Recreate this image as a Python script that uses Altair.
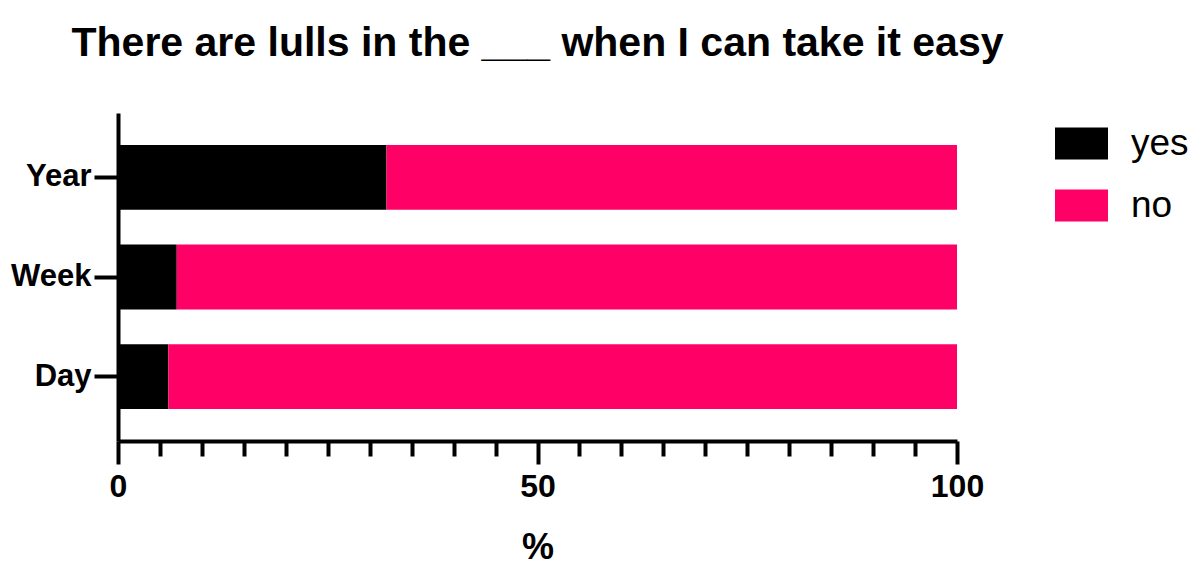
import altair as alt
import pandas as pd

periods = ["Year", "Week", "Day"]
yes_pct = [32, 7, 6]
no_pct = [68, 93, 94]
answers = ["yes", "no"]
answer_colors = ["#000000", "#FF0066"]

rows = []
for p, y, n in zip(periods, yes_pct, no_pct):
    rows.append({"period": p, "answer": "yes", "pct": y, "idx": 0})
    rows.append({"period": p, "answer": "no", "pct": n, "idx": 1})
df = pd.DataFrame(rows)

FONT = "Liberation Sans"

chart = alt.Chart(df).mark_bar().encode(
    y=alt.Y(
        "period:N",
        sort=periods,
        scale=alt.Scale(paddingInner=0.35, paddingOuter=0.32),
        axis=alt.Axis(
            title=None, domainWidth=4, domainColor="black", tickWidth=4,
            tickColor="black", tickSize=24, labelPadding=3, labelFont=FONT,
            labelFontSize=31, labelFontWeight="bold", labelColor="black",
        ),
    ),
    x=alt.X(
        "pct:Q",
        stack="zero",
        scale=alt.Scale(domain=[0, 100], nice=False),
        axis=alt.Axis(
            title="%", values=list(range(0, 101, 5)),
            labelExpr="datum.value % 50 === 0 ? datum.label : ''",
            domainWidth=4, domainColor="black", tickWidth=4, tickColor="black",
            tickSize={"condition": {"test": "datum.value % 50 === 0", "value": 23}, "value": 15},
            labelPadding=7, labelFont=FONT, labelFontSize=32,
            labelFontWeight="bold", labelColor="black", labelFlush=False,
            titleFont=FONT, titleFontSize=36, titleFontWeight="bold",
            titleColor="black", titlePadding=28, grid=False,
        ),
    ),
    color=alt.Color(
        "answer:N",
        scale=alt.Scale(domain=answers, range=answer_colors),
        legend=alt.Legend(
            title=None, orient="none", legendX=937, legendY=4,
            symbolType="M-1,-0.6H1V0.6H-1Z", symbolSize=2809,
            symbolStrokeWidth=0, symbolOpacity=1, labelFont=FONT,
            labelFontSize=37, labelColor="black", labelOffset=23, rowPadding=17,
        ),
    ),
    order=alt.Order("idx:Q", sort="ascending"),
).properties(
    width=839,
    height=328,
    padding={"left": 110, "top": 105, "right": 235, "bottom": 133},
    autosize=alt.AutoSizeParams(type="none"),
    title=alt.TitleParams(
        "There are lulls in the ___ when I can take it easy",
        font=FONT, fontSize=41, fontWeight="bold", color="black",
        anchor="middle", offset=48,
    ),
).configure_view(stroke=None).configure_axis(grid=False)

chart.save("out.html", embed_options={"renderer": "svg", "actions": False})
